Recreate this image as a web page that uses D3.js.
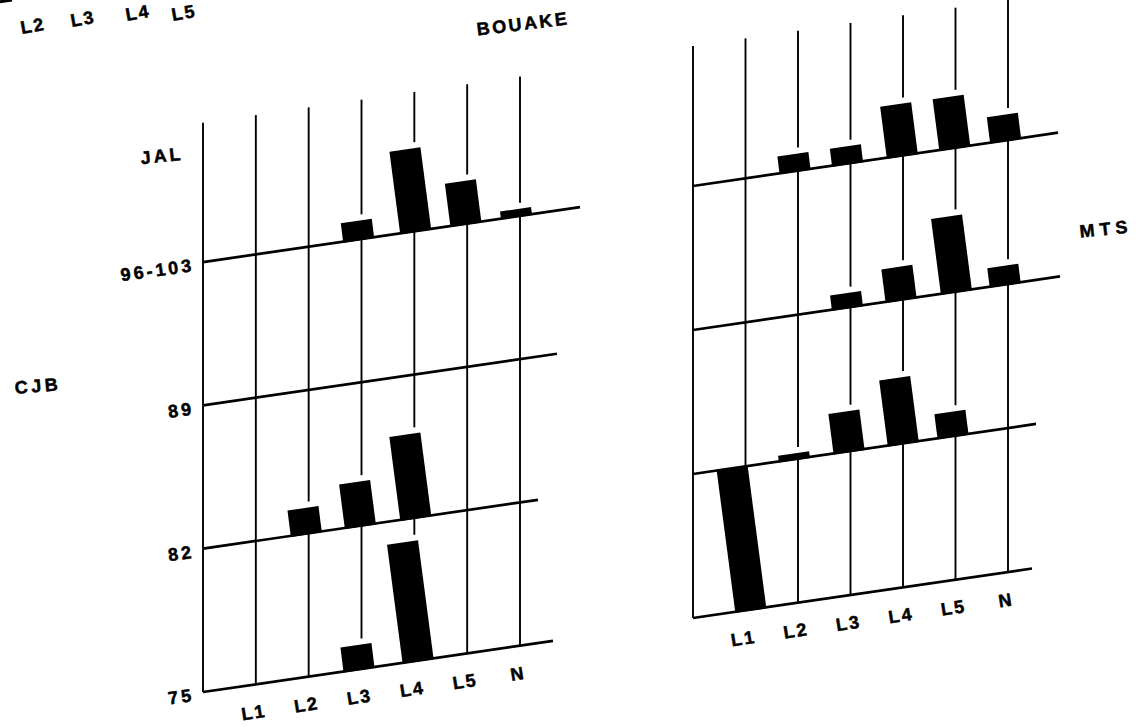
<!DOCTYPE html>
<html><head><meta charset="utf-8">
<script src="https://cdn.jsdelivr.net/npm/d3@7"></script>
<style>
body{margin:0;background:#fff}
svg{display:block;background:#fff}
text{font-family:"Liberation Sans",Arial,sans-serif;font-weight:bold;fill:#000;stroke:#000;stroke-width:0.5}
</style>
</head><body>
<svg id="c" width="1146" height="727"></svg>
<script>
// ---------- DATA ----------
const columns = ["L1","L2","L3","L4","L5","N"];
const leftRows = ["75","82","89","96-103"];      // baselines, bottom to top
const rightRows = ["R1","R2","R3","R4"];          // unlabelled baselines, bottom to top
const leftTopLabel = "JAL";
const leftTitle = "BOUAKE";
const leftSideLabel = "CJB";
const rightSideLabel = "MTS";
const fragmentLabels = ["L2","L3","L4","L5"];     // cut-off labels of a previous chart

// bar heights, in % of one row height, one array per row (bottom to top), order = columns
const left75  = [0, 0, 17, 84, 0, 0];
const left82  = [0, 18, 31, 59, 0, 0];
const left89  = [0, 0, 0, 0, 0, 0];
const left96  = [0, 0, 13, 58, 30, 5];
const right1  = [100, 0, 0, 0, 0, 0];
const right2  = [0, 4, 28, 46, 17, 0];
const right3  = [0, 0, 10, 23, 53, 13];
const right4  = [0, 12, 12, 36, 36, 18];

// ---------- LAYOUT ----------
const K = -0.146;            // slope of the (skewed) baselines
const panels = [
  {origin:[203,692], rows:leftRows, values:[left75,left82,left89,left96],
   rowSpan:143.3, width:317, extents:[350,335,354,377], rowLabels:true},
  {origin:[693,618], rows:rightRows, values:[right1,right2,right3,right4],
   rowSpan:144, width:315, extents:[339,343,367,365], rowLabels:false}
];
const BAR_W = 31, LEAN = 0.13, BAR_SHIFT = -4, GAP = 6;

const svg = d3.select("#c");

panels.forEach(p => {
  const [ox, oy] = p.origin;
  const proj = (u, v) => [ox + u, oy + v + K * u];
  const x = d3.scalePoint().domain(["axis", ...columns]).range([0, p.width]);
  const y = d3.scalePoint().domain(p.rows).range([0, -(p.rows.length - 1) * p.rowSpan]);
  const h = d3.scaleLinear().domain([0, 100]).range([0, p.rowSpan]);
  const g = svg.append("g");
  const line = d3.line();

  // vertical lines, segment per row, interrupted above bars
  const segs = [];
  x.domain().forEach(col => {
    const ci = columns.indexOf(col);
    p.rows.forEach((row, ri) => {
      let v0 = y(row);
      const v1 = ri < p.rows.length - 1 ? y(p.rows[ri + 1]) : y(row) - p.rowSpan + 4;
      const val = ci >= 0 ? p.values[ri][ci] : 0;
      if (val > 0) v0 = y(row) - h(val) - GAP;
      if (v0 > v1 + 2) segs.push([proj(x(col), v0), proj(x(col), v1)]);
    });
  });
  g.selectAll("path.v").data(segs).join("path").attr("class","v")
    .attr("d", d => line(d)).attr("stroke","#000").attr("stroke-width",1.9).attr("fill","none");

  // baselines
  g.selectAll("path.b").data(p.rows).join("path").attr("class","b")
    .attr("d", (row, i) => line([proj(0, y(row)), proj(p.extents[i], y(row))]))
    .attr("stroke","#000").attr("stroke-width",2.7).attr("fill","none");

  // bars
  const bars = [];
  p.rows.forEach((row, ri) => columns.forEach((col, ci) => {
    const val = p.values[ri][ci];
    if (val > 0) bars.push({row, col, val});
  }));
  g.selectAll("path.bar").data(bars).join("path").attr("class","bar")
    .attr("d", d => {
      const hh = h(d.val), vb = y(d.row), vt = vb - hh;
      const uc = x(d.col) + BAR_SHIFT, s = LEAN * hh / 2;
      return line([
        proj(uc + s - BAR_W/2, vb + 1), proj(uc + s + BAR_W/2, vb + 1),
        proj(uc - s + BAR_W/2, vt), proj(uc - s - BAR_W/2, vt)
      ]) + "Z";
    })
    .attr("fill","#000");

  // column labels
  g.selectAll("text.col").data(columns).join("text").attr("class","col")
    .each(function(col){
      const [X, Y] = proj(x(col) - 2, 0);
      d3.select(this).attr("transform", `translate(${X},${Y + 28}) rotate(-9)`);
    })
    .attr("text-anchor","middle").attr("dominant-baseline","central")
    .attr("font-size",18).attr("letter-spacing",2).text(d => d);

  // row labels
  if (p.rowLabels) {
    g.selectAll("text.row").data(p.rows).join("text").attr("class","row")
      .each(function(row){
        const [X, Y] = proj(0, y(row));
        d3.select(this).attr("transform", `translate(${X - 9},${Y + 3}) rotate(-8)`);
      })
      .attr("text-anchor","end").attr("dominant-baseline","central")
      .attr("font-size",18).attr("letter-spacing",3).text(d => d);
  }
});

// free labels
const free = [
  {t: leftTitle, x: 523, y: 24, r: -7, ls: 2.5},
  {t: leftTopLabel, x: 162, y: 156, r: -6, ls: 3},
  {t: leftSideLabel, x: 38, y: 386, r: -5, ls: 3.5},
  {t: rightSideLabel, x: 1106, y: 229, r: -6, ls: 5},
  ...fragmentLabels.map((t, i) => ({t, x: [33, 83, 138, 184][i], y: [26, 19, 13, 13][i], r: -10, ls: 2}))
];
svg.selectAll("text.free").data(free).join("text").attr("class","free")
  .attr("transform", d => `translate(${d.x},${d.y}) rotate(${d.r})`)
  .attr("text-anchor","middle").attr("dominant-baseline","central")
  .attr("font-size",18).attr("letter-spacing", d => d.ls).text(d => d.t);

// cut-off fragment of previous chart's baseline at top-left corner
svg.append("path").attr("d", d3.line()([[-2, 2], [12, 0]]))
  .attr("stroke","#000").attr("stroke-width",3);
</script>
</body></html>
